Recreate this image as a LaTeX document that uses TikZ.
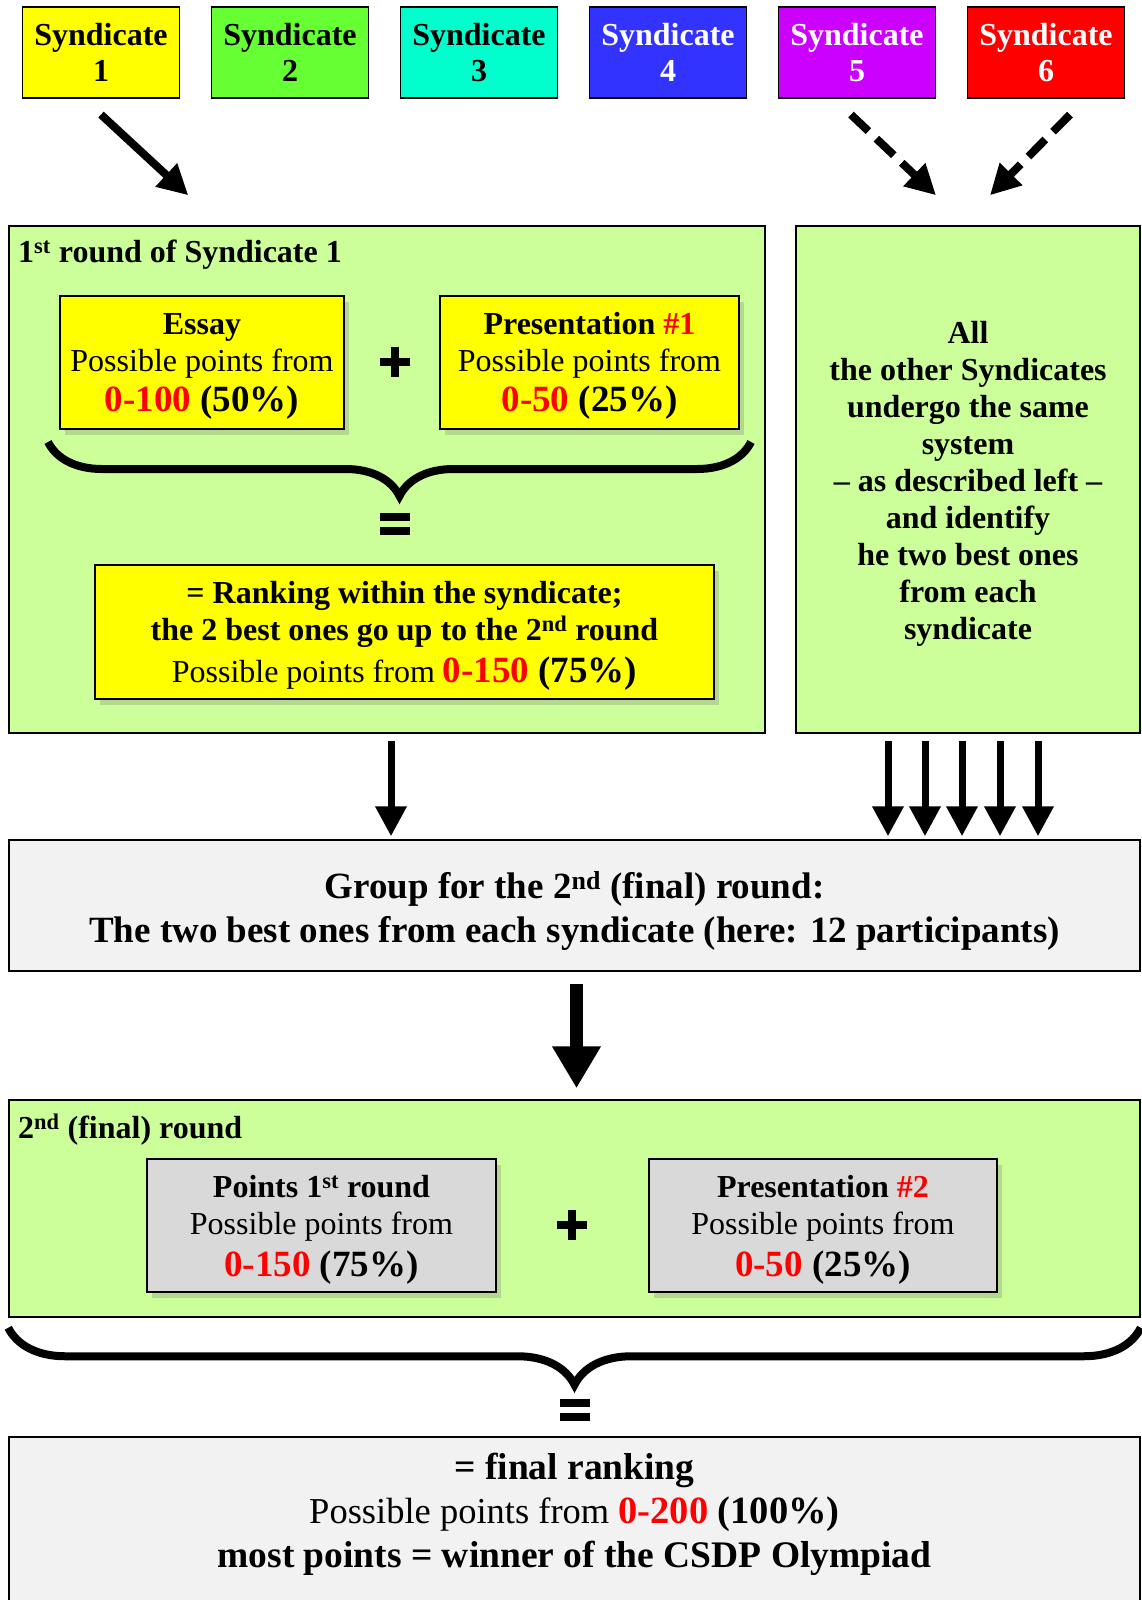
\documentclass[tikz,border=0pt]{standalone}
\usepackage{fontspec}
\setmainfont{Liberation Serif}
\usetikzlibrary{arrows.meta,shadows,decorations.pathreplacing}
\definecolor{synA}{HTML}{FFFF00}
\definecolor{synB}{HTML}{66FF33}
\definecolor{synC}{HTML}{00FFCC}
\definecolor{synD}{HTML}{3333FF}
\definecolor{synE}{HTML}{CC00FF}
\definecolor{synF}{HTML}{FF0000}
\definecolor{roundgreen}{HTML}{CCFF99}
\definecolor{groupgrey}{HTML}{F2F2F2}
\definecolor{pointgrey}{HTML}{D9D9D9}
\definecolor{ptred}{HTML}{FF0000}
\newcommand{\ptsrange}[3][37]{{\fontsize{#1}{40}\selectfont\bfseries\textcolor{ptred}{#2} #3}}
\newcommand{\topstrut}[1]{\rule{0pt}{#1}}
\newcommand{\plussign}{\makebox[30pt][c]{\rule{8pt}{30pt}}\llap{\rule[11pt]{30pt}{8pt}}}
\newcommand{\eqsign}{\rlap{\rule[14pt]{30pt}{8pt}}\rule{30pt}{8pt}}
\tikzset{
  synbox/.style={draw, line width=1.2pt, minimum width=157pt, minimum height=91pt,
    inner sep=0pt, align=center, font=\fontsize{32}{36}\selectfont\bfseries},
  roundbox/.style={draw, line width=1.5pt, fill=roundgreen, inner sep=0pt},
  greybox/.style={draw, line width=1.5pt, fill=groupgrey, inner sep=0pt, align=center},
  pointbox/.style={draw, line width=2pt, inner sep=0pt, align=center, minimum height=133pt,
    font=\fontsize{32}{37}\selectfont,
    drop shadow={shadow xshift=5pt, shadow yshift=-6pt, opacity=.3}},
  titletext/.style={anchor=west, inner sep=0pt, font=\fontsize{32}{36}\selectfont\bfseries},
  opsign/.style={inner sep=0pt},
  bigbrace/.style={line width=8pt, decorate, decoration={brace, mirror, amplitude=#1}},
  fatarrow/.style={line width=#1, -{Triangle[length=30pt,width=30pt]}}
}
\begin{document}
\begin{tikzpicture}[x=1pt, y=-1pt]
\useasboundingbox[fill=white] (0,0) rectangle (1141,1600);

% syndicates
\foreach \i/\col/\tcol in {1/synA/black,2/synB/black,3/synC/black,4/synD/white,5/synE/white,6/synF/white}{
  \pgfmathsetmacro{\sx}{101+189*(\i-1)}
  \node[synbox, fill=\col, text=\tcol] (syn\i) at (\sx,52.5) {Syndicate\\\i};
}

% first round
\node[roundbox, minimum width=756pt, minimum height=507pt] (r1) at (387,479.5) {};
\node[roundbox, minimum width=344pt, minimum height=507pt, align=center,
  font=\fontsize{32}{37}\selectfont\bfseries] (r2) at (968,479.5)
  {\topstrut{30pt}All\\the other Syndicates\\undergo the same\\system\\-- as described left --\\and identify\\he two best ones\\from each\\syndicate};
\node[titletext] (t1) at (18,255) {1\textsuperscript{st} round of Syndicate 1};
\node[pointbox, fill=synA, minimum width=284pt] (ess) at (202,362.5)
  {\topstrut{29pt}\textbf{Essay}\\Possible points from\\[3pt]\ptsrange{0-100}{(50\%)}};
\node[pointbox, fill=synA, minimum width=299pt] (pr1) at (589.5,362.5)
  {\topstrut{29pt}\textbf{Presentation \textcolor{ptred}{\#1}}\\Possible points from\\[3pt]\ptsrange{0-50}{(25\%)}};
\node[opsign] (plus1) at (395,362) {\plussign};
\draw[bigbrace=54pt] ([xshift=-11pt,yshift=-12pt]ess.south west) -- ([xshift=11pt,yshift=-12pt]pr1.south east);
\node[opsign] (eq1) at (395,524) {\eqsign};
\node[pointbox, fill=synA, minimum width=619pt, minimum height=134pt] (rank) at (404.5,632)
  {\topstrut{29pt}\textbf{= Ranking within the syndicate;}\\\textbf{the 2 best ones go up to the 2\textsuperscript{nd} round}\\[5pt]Possible points from \ptsrange{0-150}{(75\%)}};

% group
\node[greybox, minimum width=1131pt, minimum height=131pt,
  font=\fontsize{37}{44}\selectfont\bfseries] (grp) at (574.5,905.5)
  {\topstrut{38pt}Group for the 2\textsuperscript{nd} (final) round:\\The two best ones from each syndicate (here: 12 participants)};

% second round
\node[roundbox, minimum width=1131pt, minimum height=217pt] (r3) at (574.5,1208.5) {};
\node[titletext] (t2) at (18,1130) {2\textsuperscript{nd} (final) round};
\node[pointbox, fill=pointgrey, minimum width=349pt] (pts) at (321.5,1225.5)
  {\topstrut{31pt}\textbf{Points 1\textsuperscript{st} round}\\Possible points from\\[5pt]\ptsrange{0-150}{(75\%)}};
\node[pointbox, fill=pointgrey, minimum width=348pt] (pr2) at (823,1225.5)
  {\topstrut{31pt}\textbf{Presentation \textcolor{ptred}{\#2}}\\Possible points from\\[5pt]\ptsrange{0-50}{(25\%)}};
\node[opsign] (plus2) at (572,1225) {\plussign};
\draw[bigbrace=57pt] ([yshift=-10pt]r3.south west) -- ([yshift=-10pt]r3.south east);
\node[opsign] (eq2) at (575,1410) {\eqsign};

% final
\node[greybox, minimum width=1131pt, minimum height=170pt, anchor=north] (fin) at (574.5,1436) {};
\node[align=center, inner sep=0pt, font=\fontsize{37.5}{44}\selectfont] (fintxt) at (574.5,1514)
  {\textbf{= final ranking}\\{\fontsize{36.5}{44}\selectfont Possible points from \ptsrange[38.5]{0-200}{(100\%)}}\\\textbf{most points = winner of the CSDP Olympiad}};

% arrows
\draw[fatarrow=8pt] ([yshift=-16pt]syn1.south) -- ([xshift=180pt,yshift=30pt]r1.north west);
\draw[fatarrow=8pt, dash pattern=on 24pt off 11pt] ([xshift=-6pt,yshift=-16pt]syn5.south) -- ([xshift=-32pt,yshift=30pt]r2.north);
\draw[fatarrow=8pt, dash pattern=on 24pt off 11pt] ([xshift=24pt,yshift=-16pt]syn6.south) -- ([xshift=22pt,yshift=30pt]r2.north);
\draw[fatarrow=7pt, shorten <=7pt, shorten >=3pt] ([xshift=4pt]r1.south) -- ([xshift=4pt]r1.south |- grp.north);
\foreach \ax in {888,925,962,1000,1038}
  \draw[fatarrow=7pt, shorten <=7pt, shorten >=3pt] (r2.south -| \ax,0) -- (grp.north -| \ax,0);
\draw[line width=13pt, -{Triangle[length=42pt,width=46pt]}, shorten <=12pt, shorten >=11pt]
  ([xshift=2pt]grp.south) -- ([xshift=2pt]r3.north);
\end{tikzpicture}
\end{document}
